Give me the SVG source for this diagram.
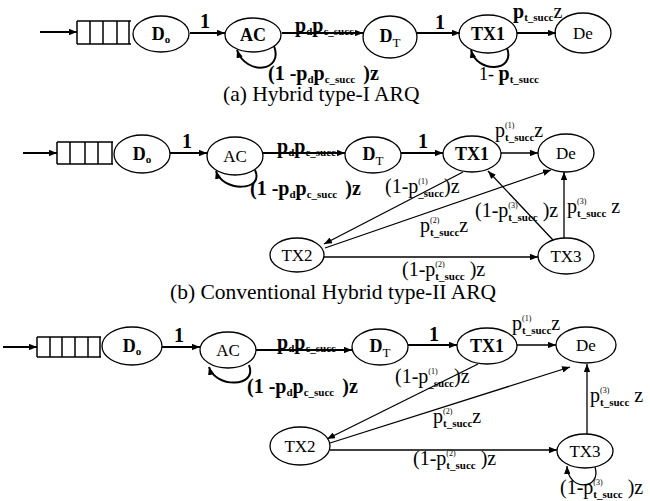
<svg xmlns="http://www.w3.org/2000/svg" width="650" height="501" viewBox="0 0 650 501">
<defs>
<marker id="ah" viewBox="0 0 10 8" refX="10" refY="4" markerWidth="8" markerHeight="6.4" orient="auto" markerUnits="userSpaceOnUse">
<path d="M0,0 L10,4 L0,8 z" fill="#000"/>
</marker>
<style>
.n ellipse{fill:#fff;stroke:#000;stroke-width:1.3}
.n text{font-family:"Liberation Serif",serif;font-size:17px;text-anchor:middle}
.n text.b{font-weight:bold;font-size:18px}
.e{stroke:#000;fill:none;stroke-width:1.3;marker-end:url(#ah)}
.w{stroke-width:2}
.q{stroke:#000;fill:none;stroke-width:1.5}
.l{font-family:"Liberation Serif",serif;font-size:20px}
.lb{font-family:"Liberation Serif",serif;font-size:20px;font-weight:bold}
.sb{font-size:11px;font-weight:bold}
.sp{font-size:8px;font-weight:normal}
.cap{font-family:"Liberation Serif",serif;font-size:21.5px}
</style>
</defs>
<rect width="650" height="501" fill="#fff"/>

<!-- Panel (a) -->
<g id="a-queue"><path class="q" d="M77,21 H131 M77,44 H131 M77,21 V44 M90,21 V44 M103,21 V44 M117,21 V44 M129,21 V44"/></g>
<g id="a-Do" class="n"><ellipse cx="161" cy="34" rx="28" ry="18"/><text class="b" x="161" y="40">D<tspan font-size="11" dy="3">o</tspan></text></g>
<g id="a-AC" class="n"><ellipse cx="253" cy="35" rx="28" ry="17"/><text class="b" x="253" y="41">AC</text></g>
<g id="a-DT" class="n"><ellipse cx="390" cy="37" rx="27" ry="21"/><text class="b" x="390" y="42">D<tspan font-size="13" font-weight="normal" dy="5">T</tspan></text></g>
<g id="a-TX1" class="n"><ellipse cx="488" cy="34" rx="29" ry="19"/><text class="b" x="488" y="40">TX1</text></g>
<g id="a-De" class="n"><ellipse cx="583" cy="33" rx="28" ry="20"/><text x="583" y="39">De</text></g>

<!-- Panel (b) -->
<g id="b-queue"><path class="q" d="M57,142 H113 M57,164 H113 M57,142 V164 M70,142 V164 M85,142 V164 M98,142 V164 M112,142 V164"/></g>
<g id="b-Do" class="n"><ellipse cx="142" cy="154" rx="28" ry="19"/><text class="b" x="142" y="160">D<tspan font-size="11" dy="3">o</tspan></text></g>
<g id="b-AC" class="n"><ellipse cx="235" cy="156" rx="28" ry="19"/><text x="235" y="162">AC</text></g>
<g id="b-DT" class="n"><ellipse cx="373" cy="155" rx="28" ry="18"/><text class="b" x="373" y="160">D<tspan font-size="13" font-weight="normal" dy="5">T</tspan></text></g>
<g id="b-TX1" class="n"><ellipse cx="472" cy="154" rx="29" ry="18"/><text class="b" x="472" y="160">TX1</text></g>
<g id="b-De" class="n"><ellipse cx="566" cy="153" rx="28" ry="19"/><text x="566" y="159">De</text></g>
<g id="b-TX2" class="n"><ellipse cx="297" cy="255" rx="27" ry="17"/><text x="297" y="261">TX2</text></g>
<g id="b-TX3" class="n"><ellipse cx="566" cy="256" rx="28" ry="18"/><text x="566" y="262">TX3</text></g>

<!-- Panel (c) -->
<g id="c-queue"><path class="q" d="M37,337 H101 M37,357 H101 M37,337 V357 M50,337 V357 M62,337 V357 M75,337 V357 M88,337 V357 M100,337 V357"/></g>
<g id="c-Do" class="n"><ellipse cx="132" cy="346" rx="30" ry="19"/><text class="b" x="132" y="352">D<tspan font-size="11" dy="3">o</tspan></text></g>
<g id="c-AC" class="n"><ellipse cx="228" cy="350" rx="28" ry="18"/><text x="228" y="356">AC</text></g>
<g id="c-DT" class="n"><ellipse cx="380" cy="347" rx="28" ry="18"/><text class="b" x="380" y="352">D<tspan font-size="13" font-weight="normal" dy="5">T</tspan></text></g>
<g id="c-TX1" class="n"><ellipse cx="487" cy="346" rx="30" ry="18"/><text class="b" x="487" y="352">TX1</text></g>
<g id="c-De" class="n"><ellipse cx="586" cy="345" rx="30" ry="18"/><text x="586" y="351">De</text></g>
<g id="c-TX2" class="n"><ellipse cx="300" cy="446" rx="30" ry="19"/><text x="300" y="452">TX2</text></g>
<g id="c-TX3" class="n"><ellipse cx="585" cy="451" rx="28" ry="17"/><text x="585" y="457">TX3</text></g>

<g id="connectors">
<!-- (a) -->
<path class="e w" d="M40,32 H77"/>
<path class="e w" d="M190,33 H225"/>
<path class="e w" d="M282,33 H363"/>
<path class="e w" d="M417,33 H460"/>
<path class="e w" d="M517,33 H556"/>
<path class="e w" d="M274,46 C284,72 246,76 237,50"/>
<path class="e w" d="M507,48 C516,72 477,74 471,50"/>
<!-- (b) -->
<path class="e w" d="M23,153 H57"/>
<path class="e w" d="M170,153 H207"/>
<path class="e w" d="M263,153 H345"/>
<path class="e w" d="M401,153 H443"/>
<path class="e" d="M501,153 H538"/>
<path class="e w" d="M255,170 C265,192 222,192 216,171"/>
<path class="e" d="M463,172 L324,244"/>
<path class="e" d="M325,248 L551,170"/>
<path class="e" d="M553,240 L488,171"/>
<path class="e" d="M564,238 V172"/>
<path class="e" d="M324,257 H538"/>
<!-- (c) -->
<path class="e w" d="M3,347 H37"/>
<path class="e w" d="M162,347 H200"/>
<path class="e w" d="M256,350 H352"/>
<path class="e w" d="M408,345 H457"/>
<path class="e" d="M517,345 H556"/>
<path class="e w" d="M249,365 C258,388 215,388 209,367"/>
<path class="e" d="M478,364 L327,439"/>
<path class="e" d="M330,443 L570,367"/>
<path class="e" d="M330,450 H557"/>
<path class="e" d="M587,434 V364"/>
<path class="e" d="M595,467 C602,490 568,492 567,466"/>
</g>

<g id="labels">
<!-- (a) -->
<text class="lb" x="200" y="28" font-size="18">1</text>
<text class="lb" x="295" y="32">p<tspan class="sb" dy="3">d</tspan><tspan dy="-3">p</tspan><tspan class="sb" dy="3">c_succ</tspan></text>
<text class="lb" x="435" y="29" font-size="18">1</text>
<text class="lb" x="513" y="18" font-size="19">p<tspan class="sb" dy="3">t_succ</tspan><tspan dy="-3" font-weight="normal">z</tspan></text>
<text class="lb" x="268" y="80">(1 -p<tspan class="sb" dy="3">d</tspan><tspan dy="-3">p</tspan><tspan class="sb" dy="3">c_succ</tspan><tspan dy="-3" dx="8">)z</tspan></text>
<text class="lb" x="479" y="80"><tspan font-weight="normal" font-size="18">1- </tspan>p<tspan class="sb" dy="3">t_succ</tspan></text>
<text class="cap" x="223" y="101">(a) Hybrid type-I ARQ</text>
<!-- (b) -->
<text class="lb" x="182" y="148" font-size="18">1</text>
<text class="lb" x="277" y="153">p<tspan class="sb" dy="3">d</tspan><tspan dy="-3">p</tspan><tspan class="sb" dy="3">c_succ</tspan></text>
<text class="lb" x="418" y="148" font-size="18">1</text>
<text class="l" x="495" y="137">p<tspan class="sp" dy="-9">(1)</tspan><tspan class="sb" dx="-9.3" dy="13">t_succ</tspan><tspan dy="-4">z</tspan></text>
<text class="lb" x="250" y="195">(1 -p<tspan class="sb" dy="3">d</tspan><tspan dy="-3">p</tspan><tspan class="sb" dy="3">c_succ</tspan><tspan dy="-3" dx="8">)z</tspan></text>
<text class="l" x="385" y="193">(1-p<tspan class="sp" dy="-9">(1)</tspan><tspan class="sb" dx="-9.3" dy="13">_succ</tspan><tspan dy="-4">)z</tspan></text>
<text class="l" x="475" y="217">(1-p<tspan class="sp" dy="-9">(3)</tspan><tspan class="sb" dx="-9.3" dy="13">t_succ</tspan><tspan dy="-4" dx="5">)z</tspan></text>
<text class="l" x="567" y="213">p<tspan class="sp" dy="-9">(3)</tspan><tspan class="sb" dx="-9.3" dy="13">t_succ</tspan><tspan dy="-4" dx="5">z</tspan></text>
<text class="l" x="420" y="232">p<tspan class="sp" dy="-9">(2)</tspan><tspan class="sb" dx="-9.3" dy="13">t_succ</tspan><tspan dy="-4">z</tspan></text>
<text class="l" x="402" y="276">(1-p<tspan class="sp" dy="-9">(2)</tspan><tspan class="sb" dx="-9.3" dy="13">t_succ</tspan><tspan dy="-4" dx="5">)z</tspan></text>
<text class="cap" x="170" y="299">(b) Conventional Hybrid type-II ARQ</text>
<!-- (c) -->
<text class="lb" x="174" y="342" font-size="18">1</text>
<text class="lb" x="277" y="349">p<tspan class="sb" dy="3">d</tspan><tspan dy="-3">p</tspan><tspan class="sb" dy="3">c_succ</tspan></text>
<text class="lb" x="429" y="341" font-size="18">1</text>
<text class="l" x="512" y="330">p<tspan class="sp" dy="-9">(1)</tspan><tspan class="sb" dx="-9.3" dy="13">t_succ</tspan><tspan dy="-4">z</tspan></text>
<text class="lb" x="247" y="393">(1 -p<tspan class="sb" dy="3">d</tspan><tspan dy="-3">p</tspan><tspan class="sb" dy="3">c_succ</tspan><tspan dy="-3" dx="8">)z</tspan></text>
<text class="l" x="395" y="383">(1-p<tspan class="sp" dy="-9">(1)</tspan><tspan class="sb" dx="-9.3" dy="13">_succ</tspan><tspan dy="-4">)z</tspan></text>
<text class="l" x="433" y="423">p<tspan class="sp" dy="-9">(2)</tspan><tspan class="sb" dx="-9.3" dy="13">t_succ</tspan><tspan dy="-4">z</tspan></text>
<text class="l" x="413" y="465">(1-p<tspan class="sp" dy="-9">(2)</tspan><tspan class="sb" dx="-9.3" dy="13">t_succ</tspan><tspan dy="-4" dx="5">)z</tspan></text>
<text class="l" x="590" y="402">p<tspan class="sp" dy="-9">(3)</tspan><tspan class="sb" dx="-9.3" dy="13">t_succ</tspan><tspan dy="-4" dx="5">z</tspan></text>
<text class="l" x="560" y="494">(1-p<tspan class="sp" dy="-9">(3)</tspan><tspan class="sb" dx="-9.3" dy="13">t_succ</tspan><tspan dy="-4" dx="5">)z</tspan></text>
</g>
</svg>
